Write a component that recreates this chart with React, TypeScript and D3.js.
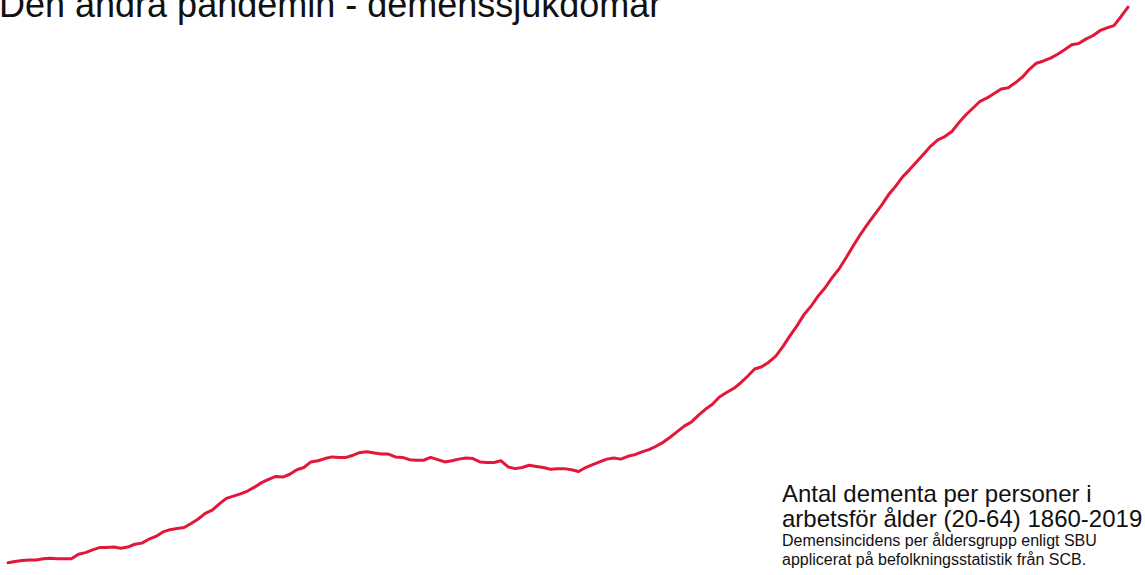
import React from 'react';
import * as d3 from 'd3';

// Years 1860-2019, one value per year (index, no axis in the original)
const firstYear = 1860;
const lastYear = 2019;

const values = [
  1.3, 1.5, 1.7, 1.8, 1.8, 2.0, 2.1, 2.0, 2.0, 2.0, // 1860s
  2.8, 3.1, 3.6, 4.0, 4.0, 4.1, 3.9, 4.1, 4.6, 4.8, // 1870s
  5.5, 6.0, 6.8, 7.2, 7.4, 7.6, 8.3, 9.1, 10.1, 10.7, // 1880s
  11.8, 12.8, 13.2, 13.6, 14.1, 14.8, 15.6, 16.2, 16.7, 16.6, // 1890s
  17.1, 17.9, 18.3, 19.3, 19.5, 19.9, 20.2, 20.1, 20.1, 20.5, // 1900s
  21.0, 21.1, 20.9, 20.7, 20.7, 20.2, 20.1, 19.7, 19.6, 19.6, // 1910s
  20.1, 19.7, 19.3, 19.5, 19.8, 20.0, 19.9, 19.3, 19.2, 19.2, // 1920s
  19.5, 18.4, 18.1, 18.3, 18.7, 18.5, 18.3, 18.0, 18.1, 18.1, // 1930s
  17.9, 17.6, 18.3, 18.8, 19.3, 19.8, 20.0, 19.8, 20.3, 20.6, // 1940s
  21.1, 21.5, 22.1, 22.8, 23.7, 24.7, 25.7, 26.4, 27.6, 28.7, // 1950s
  29.6, 30.9, 31.7, 32.4, 33.4, 34.6, 35.9, 36.3, 37.1, 38.2, // 1960s
  39.9, 41.8, 43.6, 45.6, 47.1, 48.9, 50.4, 52.2, 53.8, 55.8, // 1970s
  57.9, 59.9, 61.7, 63.4, 65.1, 67.0, 68.5, 70.2, 71.5, 72.9, // 1980s
  74.3, 75.7, 76.8, 77.4, 78.3, 79.9, 81.3, 82.5, 83.7, 84.3, // 1990s
  85.1, 85.9, 86.1, 87.0, 88.0, 89.4, 90.5, 90.9, 91.4, 92.1, // 2000s
  92.9, 93.8, 94.0, 94.8, 95.4, 96.3, 96.8, 97.2, 98.8, 100.5, // 2010s
];

const title = 'Den andra pandemin - demenssjukdomar';
const noteLines = ['Antal dementa per personer i', 'arbetsför ålder (20-64) 1860-2019'];
const sourceLines = ['Demensincidens per åldersgrupp enligt SBU', 'applicerat på befolkningsstatistik från SCB.'];

const width = 1145;
const height = 575;
const font = '"Liberation Sans", Arial, Helvetica, sans-serif';

const App = () => {
  const data = values.map((v, i) => ({ year: firstYear + i, value: v }));

  const x = d3.scaleLinear().domain([firstYear, lastYear]).range([8, 1128]);
  const y = d3.scaleLinear().domain([0, 100]).range([570, 10]);

  const line = d3
    .line<{ year: number; value: number }>()
    .x(d => x(d.year))
    .y(d => y(d.value))
    .curve(d3.curveLinear);

  return (
    <svg
      width={width}
      height={height}
      style={{ position: 'absolute', left: 0, top: 0, background: '#fff' }}
      fontFamily={font}
    >
      {/* title sits partly above the top edge, as in the original */}
      <text x={-1} y={17} fontSize={36} fill="#111">
        {title}
      </text>

      <path
        d={line(data) || ''}
        fill="none"
        stroke="#e3173a"
        strokeWidth={3}
        strokeLinejoin="round"
        strokeLinecap="round"
      />

      {noteLines.map((t, i) => (
        <text key={t} x={782} y={502 + i * 25} fontSize={24} fill="#111">
          {t}
        </text>
      ))}
      {sourceLines.map((t, i) => (
        <text key={t} x={782} y={546 + i * 19} fontSize={16} fill="#111">
          {t}
        </text>
      ))}
    </svg>
  );
};

export default App;
